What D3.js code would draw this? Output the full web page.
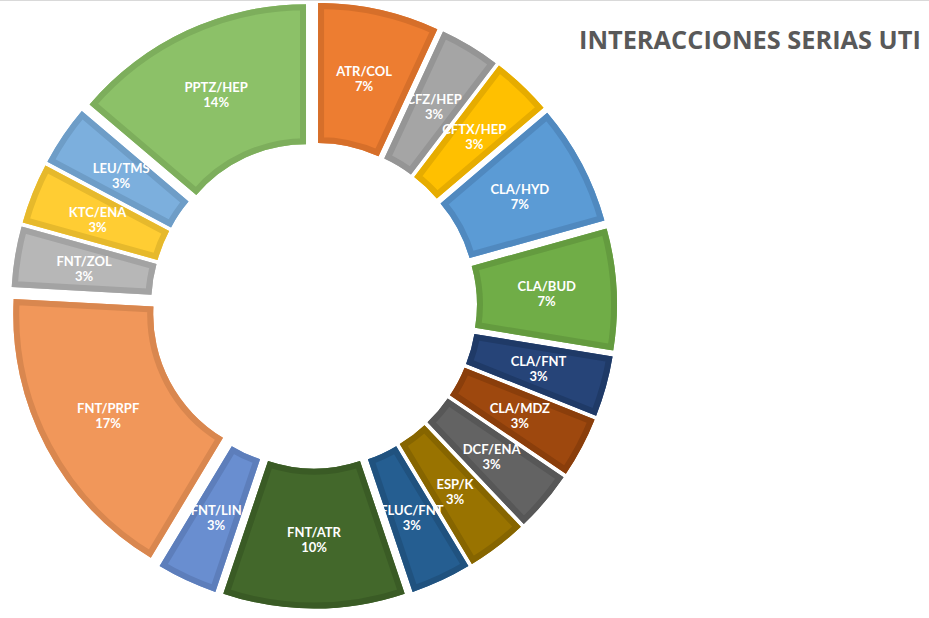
<!DOCTYPE html>
<html>
<head>
<meta charset="utf-8">
<script src="https://cdn.jsdelivr.net/npm/d3@7"></script>
<style>
  html, body { margin: 0; padding: 0; background: #ffffff; }
  svg { display: block; }
</style>
</head>
<body>
<svg id="chart" width="929" height="618"></svg>
<script>
// ---- data ----
const categories = ["ATR/COL","CFZ/HEP","CFTX/HEP","CLA/HYD","CLA/BUD","CLA/FNT","CLA/MDZ","DCF/ENA","ESP/K","FLUC/FNT","FNT/ATR","FNT/LIN","FNT/PRPF","FNT/ZOL","KTC/ENA","LEU/TMS","PPTZ/HEP"];
const counts = [2,1,1,2,2,1,1,1,1,1,3,1,5,1,1,1,4];
const title = "INTERACCIONES SERIAS UTI";

// ---- styles ----
const fills = ["#ED7D31","#A5A5A5","#FFC000","#5B9BD5","#70AD47","#264478","#9E480E","#636363","#997300","#255E91","#43682B","#698ED0","#F1975A","#B7B7B7","#FFCD33","#7CAFDD","#8CC168"];
const borders = ["#D66F2A","#959595","#E6AC00","#5089BF","#649B3F","#1F3A67","#8A3E0B","#575757","#866500","#20527F","#3A5B25","#5D7EBB","#D9874F","#A3A3A3","#E6B92C","#6E9DC7","#7DAE5C"];

const svg = d3.select("#chart");
const cx = 314, cy = 305.5, R = 284, ri = 144, explode = 19, bw = 6;
const total = d3.sum(counts);
const fmt = d3.format(".0%");

// faint top border line
svg.append("line").attr("x1", 0).attr("x2", 929).attr("y1", 0.5).attr("y2", 0.5)
  .attr("stroke", "#d9d9d9").attr("stroke-width", 1);

const pie = d3.pie().sort(null).value(d => d).startAngle(0).endAngle(2 * Math.PI);
const arcs = pie(counts);
const arc = d3.arc().innerRadius(ri).outerRadius(R);
const defs = svg.append("defs");

const g = svg.append("g").attr("transform", `translate(${cx},${cy})`);

arcs.forEach((a, i) => {
  const mid = (a.startAngle + a.endAngle) / 2;
  const dx = explode * Math.sin(mid), dy = -explode * Math.cos(mid);
  const sg = g.append("g").attr("transform", `translate(${dx},${dy})`);
  const d = arc(a);
  defs.append("clipPath").attr("id", "clip" + i).append("path").attr("d", d);
  sg.append("path").attr("d", d).attr("fill", fills[i]);
  sg.append("path").attr("d", d)
    .attr("fill", "none").attr("stroke", borders[i]).attr("stroke-width", bw * 2)
    .attr("clip-path", `url(#clip${i})`);
});

// labels
const lab = svg.append("g").attr("transform", `translate(${cx},${cy})`);
arcs.forEach((a, i) => {
  const mid = (a.startAngle + a.endAngle) / 2;
  const r = (R + ri) / 2 + explode;
  const x = r * Math.sin(mid), y = -r * Math.cos(mid);
  const t = lab.append("text").attr("text-anchor", "middle")
    .attr("font-family", "Lato, 'Noto Sans', sans-serif").attr("font-weight", "bold")
    .attr("font-size", 13).attr("fill", "#ffffff");
  t.append("tspan").attr("x", x).attr("y", y - 2).text(categories[i]);
  t.append("tspan").attr("x", x).attr("y", y + 13).text(fmt(counts[i] / total));
});

// title
const tt = svg.append("text").attr("x", 579).attr("y", 49)
  .attr("font-family", "'Open Sans', sans-serif").attr("font-weight", "bold")
  .attr("font-size", 23).attr("fill", "#595959").text(title);
const w = tt.node().getComputedTextLength();
tt.attr("font-size", 23 * 342 / w);
</script>
</body>
</html>
